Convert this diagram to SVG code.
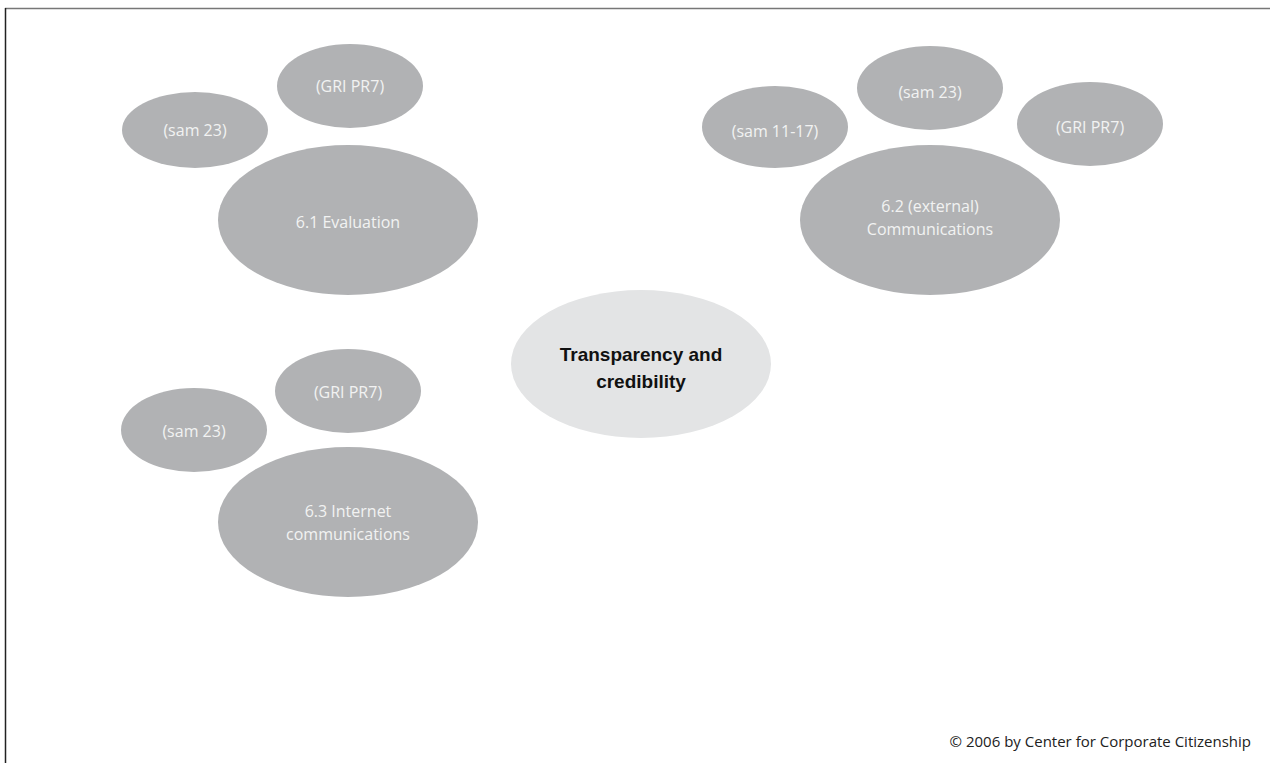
<svg xmlns="http://www.w3.org/2000/svg" width="1270" height="763" viewBox="0 0 1270 763">
<style>
.n{fill:#b1b2b4}
.c{fill:#e3e4e5}
.t{font-family:"Open Sans","Liberation Sans",sans-serif;font-size:16px;fill:#f2f2f2;text-anchor:middle;dominant-baseline:central}
.b{font-family:"Liberation Sans",sans-serif;font-size:19px;font-weight:bold;fill:#111;text-anchor:middle;dominant-baseline:central}
.f{font-family:"Open Sans","Liberation Sans",sans-serif;font-size:15px;fill:#222;text-anchor:end}
</style>
<rect width="1270" height="763" fill="#fff"/>
<line x1="5" y1="8.5" x2="1270" y2="8.5" stroke="#777" stroke-width="1.5"/>
<line x1="5.5" y1="8" x2="5.5" y2="763" stroke="#222" stroke-width="1.5"/>
<g id="connectors"></g>
<g id="eval-gri"><ellipse class="n" cx="350" cy="86" rx="73" ry="42"/><text class="t" x="350" y="86">(GRI PR7)</text></g>
<g id="eval-sam"><ellipse class="n" cx="195" cy="130" rx="73" ry="38"/><text class="t" x="195" y="130">(sam 23)</text></g>
<g id="evaluation"><ellipse class="n" cx="348" cy="220" rx="130" ry="75"/><text class="t" x="348" y="222">6.1 Evaluation</text></g>
<g id="comm-sam23"><ellipse class="n" cx="930" cy="88" rx="73" ry="42"/><text class="t" x="930" y="92">(sam 23)</text></g>
<g id="comm-sam1117"><ellipse class="n" cx="775" cy="127" rx="73" ry="41"/><text class="t" x="775" y="131">(sam 11-17)</text></g>
<g id="comm-gri"><ellipse class="n" cx="1090" cy="124" rx="73" ry="42"/><text class="t" x="1090" y="127">(GRI PR7)</text></g>
<g id="communications"><ellipse class="n" cx="930" cy="220" rx="130" ry="75"/><text class="t" x="930" y="206">6.2 (external)</text><text class="t" x="930" y="229">Communications</text></g>
<g id="center"><ellipse class="c" cx="641" cy="364" rx="130" ry="74"/><text class="b" x="641" y="354">Transparency and</text><text class="b" x="641" y="381">credibility</text></g>
<g id="inet-gri"><ellipse class="n" cx="348" cy="391" rx="73" ry="42"/><text class="t" x="348" y="392">(GRI PR7)</text></g>
<g id="inet-sam"><ellipse class="n" cx="194" cy="430" rx="73" ry="42"/><text class="t" x="194" y="431">(sam 23)</text></g>
<g id="internet"><ellipse class="n" cx="348" cy="522" rx="130" ry="75"/><text class="t" x="348" y="511">6.3 Internet</text><text class="t" x="348" y="534">communications</text></g>
<text class="f" x="1251" y="747">© 2006 by Center for Corporate Citizenship</text>
</svg>
